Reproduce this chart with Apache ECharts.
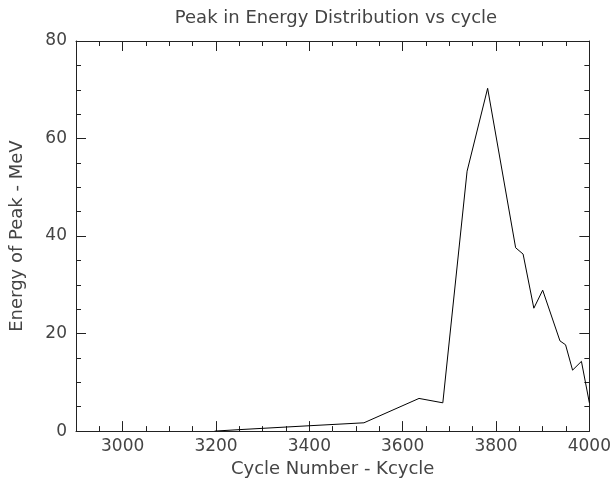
<!DOCTYPE html>
<html>
<head>
<meta charset="utf-8">
<script src="https://cdn.jsdelivr.net/npm/echarts@6/dist/echarts.min.js"></script>
<style>
html,body{margin:0;padding:0;background:#fff;}
#chart{width:614px;height:483px;}
</style>
</head>
<body>
<div id="chart"></div>
<script>
var cycles = [3197, 3250, 3400, 3517, 3635, 3686, 3738, 3782, 3842, 3858, 3881, 3900, 3937, 3949, 3964, 3983, 4000];
var energy = [0, 0.3, 1.1, 1.7, 6.7, 5.8, 53.3, 70.3, 37.6, 36.3, 25.2, 28.9, 18.5, 17.7, 12.5, 14.3, 5.8];
var xMajorTicks = [3000, 3200, 3400, 3600, 3800, 4000];
var yMajorTicks = [0, 20, 40, 60, 80];
var titleText = 'Peak in Energy Distribution vs cycle';
var xName = 'Cycle Number - Kcycle';
var yName = 'Energy of Peak - MeV';

var FONT = 'DejaVu Sans';
var TXT = '#444';
var AX = '#222';

var points = cycles.map(function (c, i) { return [c, energy[i]]; });

function xAx(pos, major, showLabel) {
  return {
    type: 'value', position: pos, min: 2900, max: 4000, interval: 50,
    axisLine: { show: !major, onZero: false, lineStyle: { color: AX, width: 1 } },
    axisTick: major ? { show: true, inside: true, length: 10, customValues: xMajorTicks, lineStyle: { color: AX } }
                    : { show: true, inside: true, length: 5, lineStyle: { color: AX } },
    axisLabel: showLabel ? { show: true, customValues: xMajorTicks, formatter: function (v) { return String(v); },
                             color: TXT, fontFamily: FONT, fontSize: 17, margin: 7 } : { show: false },
    splitLine: { show: false },
    name: showLabel ? xName : '', nameLocation: 'middle', nameGap: 28,
    nameTextStyle: { color: TXT, fontFamily: FONT, fontSize: 18 }
  };
}
function yAx(pos, showLabel) {
  return {
    type: 'value', position: pos, min: 0, max: 80, interval: 20,
    axisLine: { show: true, onZero: false, lineStyle: { color: AX, width: 1 } },
    axisTick: { show: true, inside: true, length: 10, lineStyle: { color: AX } },
    minorTick: { show: true, splitNumber: 4, length: 5, lineStyle: { color: AX } },
    axisLabel: showLabel ? { show: true, color: TXT, fontFamily: FONT, fontSize: 17, margin: 9 } : { show: false },
    splitLine: { show: false },
    name: showLabel ? yName : '', nameLocation: 'middle', nameGap: 50,
    nameTextStyle: { color: TXT, fontFamily: FONT, fontSize: 18 }
  };
}

var chart = echarts.init(document.getElementById('chart'), null, { renderer: 'canvas' });
chart.setOption({
  animation: false,
  backgroundColor: '#fff',
  title: {
    text: titleText, left: 331, top: 4, textAlign: 'center',
    textStyle: { color: TXT, fontFamily: FONT, fontSize: 18, fontWeight: 'normal' }
  },
  grid: { left: 73, right: 24, top: 41, bottom: 51, containLabel: false },
  xAxis: [xAx('bottom', false, true), xAx('bottom', true, false), xAx('top', false, false), xAx('top', true, false)],
  yAxis: [yAx('left', true), yAx('right', false)],
  series: [{
    type: 'line', xAxisIndex: 0, yAxisIndex: 0, data: points,
    showSymbol: false, symbol: 'none',
    lineStyle: { color: '#000', width: 1 }
  }]
});
</script>
</body>
</html>
